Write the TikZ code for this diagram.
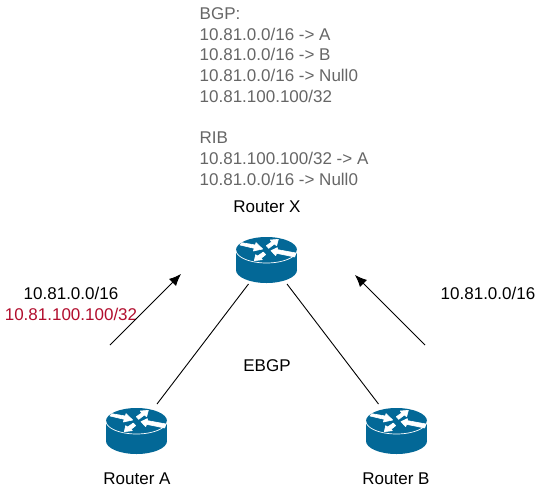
\documentclass[tikz,border=0pt]{standalone}
\usepackage{fontspec}
\setmainfont{Liberation Sans}
\usetikzlibrary{arrows.meta}
\definecolor{routerblue}{HTML}{036897}
\definecolor{tablegray}{HTML}{666666}
\definecolor{prefixred}{HTML}{B20E2E}
\tikzset{
  routerbox/.style={rectangle,minimum width=61pt,minimum height=46pt,inner sep=0pt,outer sep=0pt},
  lbl/.style={inner sep=0pt,font=\fontsize{17}{20}\selectfont,anchor=center,text=black},
  tbl/.style={inner sep=0pt,font=\fontsize{17}{20.7}\selectfont,align=left,anchor=north west,text=tablegray},
  link/.style={draw=black,line width=0.9pt},
  flow/.style={draw=black,line width=0.9pt,-{Latex[length=12pt,width=10pt]}},
  fa/.style={fill=white,draw=white,line width=0.6pt,line join=round},
  pics/router/.style={code={
    \fill[routerblue] (0,-10) ellipse [x radius=30.5,y radius=13];
    \fill[routerblue] (0,10) ellipse [x radius=30.5,y radius=13];
    \fill[routerblue] (-30.5,-10) rectangle (30.5,10);
    \draw[white,line width=0.7pt] plot[domain=0:180,samples=41,smooth] ({30.5*cos(\x)},{-10+13*sin(\x)});
    \begin{scope}[xshift=-46.5pt,yshift=35pt,x=0.3333pt,y=-0.3333pt]
      \path[fa] (60,60) -- (65,53) -- (106,60) -- (108,53) -- (128,72) -- (100,78) -- (103,70) -- cycle;
      \path[fa] (139,62) -- (155,51) -- (151,45) -- (175,43) -- (170,62) -- (163,57) -- (146,70) -- cycle;
      \path[fa] (153,77) -- (172,68) -- (173,74) -- (228,84) -- (224,96) -- (170,85) -- (167,92) -- cycle;
      \path[fa] (103,107) -- (107,89) -- (113,93) -- (130,81) -- (137,89) -- (123,100) -- (127,104) -- cycle;
    \end{scope}
  }}
}
\begin{document}
\begin{tikzpicture}[x=1pt,y=-1pt]
\useasboundingbox (0,0) rectangle (541,496);
\fill[white] (0,0) rectangle (541,496);
\node[routerbox] (rx) at (266.5,260) {};
\node[routerbox] (ra) at (136.5,431) {};
\node[routerbox] (rb) at (396.5,431) {};
\pic at (rx.center) {router};
\pic at (ra.center) {router};
\pic at (rb.center) {router};
\node[tbl] (table) at (199.5,7.5) {BGP:\\10.81.0.0/16 -> A\\10.81.0.0/16 -> B\\10.81.0.0/16 -> Null0\\10.81.100.100/32\\[20.7pt]RIB\\10.81.100.100/32 -> A\\10.81.0.0/16 -> Null0};
\node[lbl] (lx) at (267,207) {Router X};
\node[lbl] (la) at (137,479) {Router A};
\node[lbl] (lb) at (396,479) {Router B};
\node[lbl] (lebgp) at (267,366) {EBGP};
\node[lbl] (p1) at (71,293) {10.81.0.0/16};
\node[lbl,text=prefixred] (p2) at (71,314) {10.81.100.100/32};
\node[lbl] (p3) at (488,293) {10.81.0.0/16};
\draw[link] ([xshift=-18pt,yshift=-1pt]rx.south) -- ([xshift=20.5pt,yshift=4pt]ra.north);
\draw[link] ([xshift=20.5pt,yshift=-1pt]rx.south) -- ([xshift=-18pt,yshift=4pt]rb.north);
\coordinate (a1s) at (110,345);
\coordinate (a1e) at (181,274);
\coordinate (a2s) at (425,345);
\coordinate (a2e) at (355,275);
\draw[flow] (a1s) -- (a1e);
\draw[flow] (a2s) -- (a2e);
\end{tikzpicture}
\end{document}
